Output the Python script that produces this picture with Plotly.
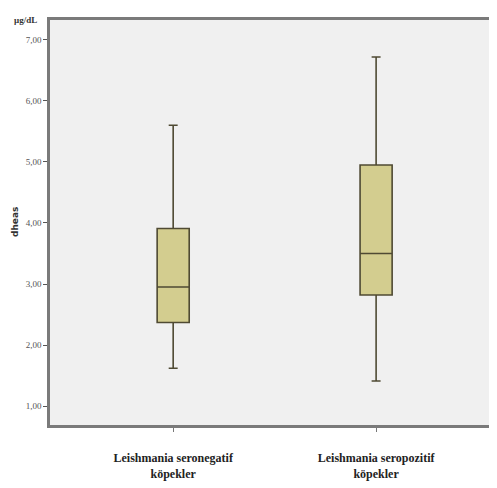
import plotly.graph_objects as go

categories = ["Leishmania seronegatif<br>köpekler", "Leishmania seropozitif<br>köpekler"]
lower_whisker = [1.62, 1.41]
q1_values = [2.37, 2.82]
median_values = [2.95, 3.50]
q3_values = [3.91, 4.95]
upper_whisker = [5.60, 6.72]
y_ticks = [1, 2, 3, 4, 5, 6, 7]

fig = go.Figure()
fig.add_trace(go.Box(
    x=categories,
    q1=q1_values, median=median_values, q3=q3_values,
    lowerfence=lower_whisker, upperfence=upper_whisker,
    fillcolor="#d3cd8f",
    line=dict(color="#4f4a33", width=1.6),
    width=0.158,
    whiskerwidth=0.28,
    boxpoints=False,
    showlegend=False,
    hoverinfo="skip",
))

fig.update_layout(
    width=497, height=488,
    margin=dict(l=42, r=12, t=9, b=71),
    paper_bgcolor="white",
    plot_bgcolor="#f0f0f0",
    separators=",.",
    font=dict(family="Liberation Serif", color="#222"),
    xaxis=dict(
        type="category",
        range=[-0.607, 1.576],
        showline=True, linecolor="#7a7a7a", linewidth=2.5, mirror=True,
        ticks="outside", ticklen=4, tickcolor="#777",
        ticklabelstandoff=16,
        showgrid=False, zeroline=False,
        tickvals=categories,
        ticktext=["<b>" + c + "</b>" for c in categories],
        tickfont=dict(family="Liberation Serif", size=12, color="#222"),
    ),
    yaxis=dict(
        range=[0.69, 7.325],
        tickvals=y_ticks,
        tickformat=".2f",
        showline=True, linecolor="#7a7a7a", linewidth=2.5, mirror=True,
        ticks="outside", ticklen=4, tickcolor="#555",
        showgrid=False, zeroline=False,
        tickfont=dict(family="Liberation Serif", size=9, color="#555"),
    ),
    annotations=[
        dict(text="<b>dheas</b>", textangle=-90, xref="paper", yref="paper",
             x=-0.08, y=0.5, xanchor="center", yanchor="middle", showarrow=False,
             font=dict(family="DejaVu Sans", size=9, color="#333")),
        dict(text="<b>µg/dL</b>", xref="paper", yref="paper",
             x=-0.055, y=1.0, xanchor="center", yanchor="middle", showarrow=False,
             font=dict(family="Liberation Serif", size=9, color="#333")),
    ],
)
fig.write_html("out.html")
